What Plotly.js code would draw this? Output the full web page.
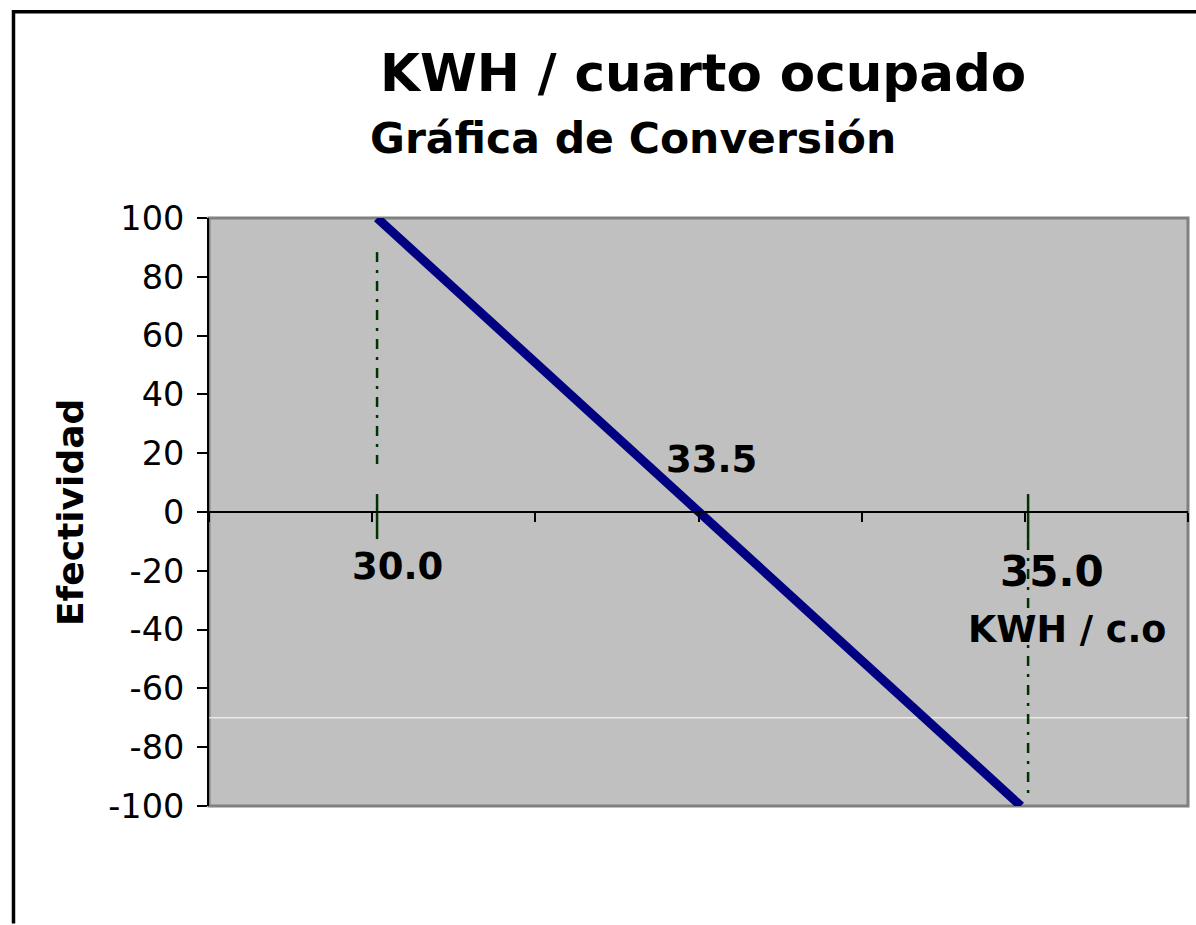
<!DOCTYPE html>
<html>
<head>
<meta charset="utf-8">
<script src="https://cdn.plot.ly/plotly-3.0.1.min.js"></script>
<style>html,body{margin:0;padding:0;background:#fff;}#chart{width:1196px;height:925px;}</style>
</head>
<body>
<div id="chart"></div>
<script>
// Data
const lineX = [1.03, 4.976];
const lineY = [100, -100];
const guide1DashX = [1.03, 1.03];
const guide1DashY = [88.4, 16.3];
const guide1SolidX = [1.03, 1.03];
const guide1SolidY = [6.1, -9.2];
const guide2SolidX = [5.02, 5.02];
const guide2SolidY = [6.1, -9.5];
const guide2DashX = [5.02, 5.02];
const guide2DashY = [-9.5, -97.3];
const whiteLineX = [0, 6];
const whiteLineY = [-70, -70];
const yTicks = [-100, -80, -60, -40, -20, 0, 20, 40, 60, 80, 100];
const yTickText = ["-100", "-80", "-60", "-40", "-20", "0", "20", "40", "60", "80", "100"];
const xTicks = [0, 1, 2, 3, 4, 5, 6];
const labelTexts = ["30.0", "33.5", "35.0", "KWH / c.o"];
const labelX = [1.158, 3.077, 5.166, 5.258];
const labelY = [-18.4, 18.0, -20.1, -40.1];
const labelSizes = [37, 37, 42, 36.5];
const titleText = "KWH / cuarto ocupado";
const subtitleText = "Gráfica de Conversión";
const yTitleText = "Efectividad";

const green = '#003300';
const traces = [
  {x: whiteLineX, y: whiteLineY, mode: 'lines', line: {color: '#ffffff', width: 1}, hoverinfo: 'skip'},
  {x: guide1DashX, y: guide1DashY, mode: 'lines', line: {color: green, width: 2.5, dash: '10px,8px,3px,8px'}},
  {x: guide1SolidX, y: guide1SolidY, mode: 'lines', line: {color: green, width: 2.5}},
  {x: guide2SolidX, y: guide2SolidY, mode: 'lines', line: {color: green, width: 2.5}},
  {x: guide2DashX, y: guide2DashY, mode: 'lines', line: {color: green, width: 2.5, dash: '10px,8px,3px,8px'}},
  {x: lineX, y: lineY, mode: 'lines', line: {color: '#000080', width: 9}}
];

const annotations = labelTexts.map((t, i) => ({
  text: '<b>' + t + '</b>', x: labelX[i], y: labelY[i], xref: 'x', yref: 'y',
  showarrow: false, xanchor: 'center', yanchor: 'middle',
  font: {family: 'DejaVu Sans', size: labelSizes[i], color: '#000'}
}));
annotations.push({
  text: '<b>' + titleText + '</b>', xref: 'paper', yref: 'paper', x: 0.5046, y: 1.246,
  showarrow: false, xanchor: 'center', yanchor: 'middle',
  font: {family: 'DejaVu Sans', size: 51.5, color: '#000'}
});
annotations.push({
  text: '<b>' + subtitleText + '</b>', xref: 'paper', yref: 'paper', x: 0.433, y: 1.136,
  showarrow: false, xanchor: 'center', yanchor: 'middle',
  font: {family: 'DejaVu Sans', size: 42.5, color: '#000'}
});
annotations.push({
  text: '<b>' + yTitleText + '</b>', xref: 'paper', yref: 'paper', x: -0.142, y: 0.5,
  showarrow: false, xanchor: 'center', yanchor: 'middle', textangle: -90,
  font: {family: 'DejaVu Sans', size: 36, color: '#000'}
});

const layout = {
  width: 1196, height: 925,
  margin: {l: 209, r: 8, t: 218, b: 119, pad: 0},
  paper_bgcolor: '#ffffff', plot_bgcolor: '#c0c0c0',
  showlegend: false,
  xaxis: {
    range: [0, 6], tickvals: xTicks, showticklabels: false,
    showgrid: false, zeroline: false,
    showline: true, linecolor: '#000', linewidth: 2,
    ticks: 'outside', ticklen: 9, tickwidth: 2, tickcolor: '#000',
    anchor: 'free', position: 0.5, fixedrange: true
  },
  yaxis: {
    range: [-100, 100], tickvals: yTicks, ticktext: yTickText, showgrid: false, zeroline: false,
    showline: true, linecolor: '#000', linewidth: 2,
    ticks: 'outside', ticklen: 10, tickwidth: 2, tickcolor: '#000',
    ticklabelstandoff: 6,
    tickfont: {family: 'DejaVu Sans', size: 33.5, color: '#000'}, fixedrange: true
  },
  shapes: [
    {type: 'rect', xref: 'paper', yref: 'paper', x0: 0, x1: 1, y0: 0, y1: 1,
     line: {color: '#808080', width: 3}, layer: 'below'},
    {type: 'path', xref: 'paper', yref: 'paper',
     path: 'M -0.1997,-0.2 L -0.1997,1.3506 L 1.01,1.3506',
     line: {color: '#000', width: 3.5}, layer: 'above'}
  ],
  annotations: annotations
};
Plotly.newPlot('chart', traces, layout, {displayModeBar: false, staticPlot: true});
</script>
</body>
</html>
